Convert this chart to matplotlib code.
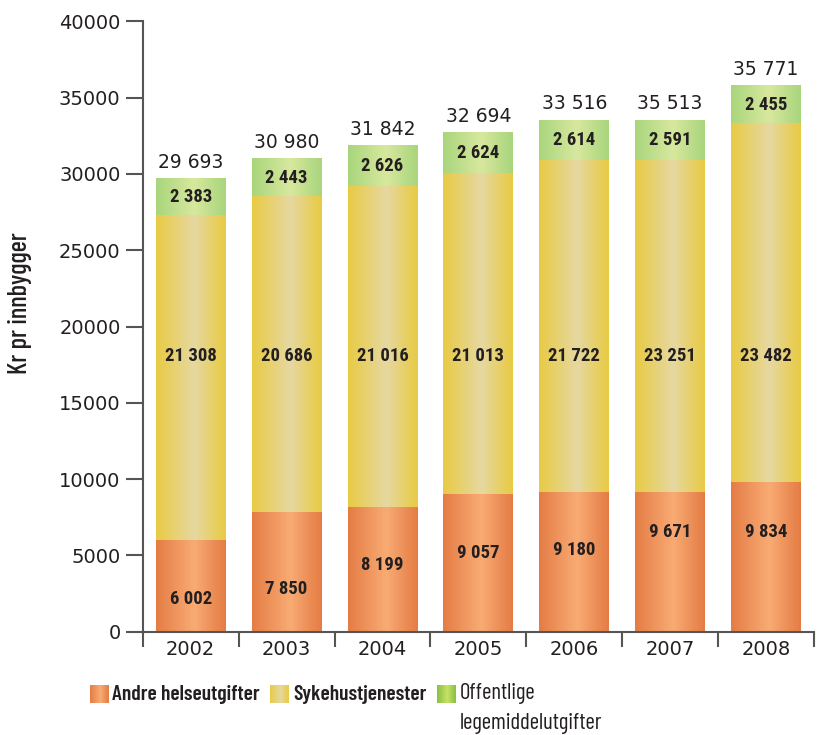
import numpy as np
import matplotlib
matplotlib.use("Agg")
import matplotlib.pyplot as plt
from matplotlib.colors import to_rgb
from matplotlib import font_manager as fm
from matplotlib.font_manager import FontProperties

# ---- data ----
years = ["2002", "2003", "2004", "2005", "2006", "2007", "2008"]
# values printed on the chart
andre_lbl = [6002, 7850, 8199, 9057, 9180, 9671, 9834]
syke_lbl = [21308, 20686, 21016, 21013, 21722, 23251, 23482]
legem_lbl = [2383, 2443, 2626, 2624, 2614, 2591, 2455]
total_lbl = [29693, 30980, 31842, 32694, 33516, 35513, 35771]
# segment heights as drawn in the reference (2007 column drawn like 2006)
andre_bar = [6002, 7850, 8199, 9057, 9180, 9180, 9834]
syke_bar = [21308, 20686, 21016, 21013, 21722, 21722, 23482]
legem_bar = [2383, 2443, 2626, 2624, 2614, 2614, 2455]
yticks = [0, 5000, 10000, 15000, 20000, 25000, 30000, 35000, 40000]

# label positions (data units)
andre_lbl_y = [2150, 2780, 4350, 5160, 5350, 6530, 6530]
syke_lbl_y = 18100

TXT = "#231f20"

W = {"ultralight": 200, "light": 300, "normal": 400, "regular": 400, "book": 400,
     "medium": 500, "roman": 400, "semibold": 600, "demibold": 600, "demi": 600,
     "bold": 700, "heavy": 800, "extra bold": 800, "black": 900}

def wnum(w):
    return w if isinstance(w, (int, float)) else W.get(str(w).lower(), 400)

def pick(names, weight, size, tol=150):
    for n in names:
        c = [f for f in fm.fontManager.ttflist if f.name == n and f.style == "normal"]
        if c:
            best = min(c, key=lambda f: abs(wnum(f.weight) - weight))
            if abs(wnum(best.weight) - weight) <= tol:
                return FontProperties(fname=best.fname, size=size)
    return FontProperties(family="DejaVu Sans", weight=weight, size=size)

FP_LBL = pick(["Roboto Condensed"], 700, 13.5)
FP_LEGB = pick(["Barlow Condensed", "Fira Sans Extra Condensed", "Roboto Condensed"], 600, 15.5)
FP_LEGR = pick(["Barlow Condensed", "Fira Sans Extra Condensed", "Archivo Narrow"], 400, 16.5)
FP_YLAB = pick(["Barlow Condensed", "Fira Sans Extra Condensed", "Roboto Condensed"], 500, 19)
FP_TICK = pick(["Libre Franklin"], 400, 14)
FP_TOT = pick(["Libre Franklin"], 400, 13.5)

def grad(edge, peak, n=256):
    e = np.array(to_rgb(edge)); p = np.array(to_rgb(peak))
    t = np.linspace(0, 1, n)
    pos = [0.0, 0.25, 0.55, 0.85, 1.0]
    w = [0.0, 0.45, 1.0, 0.3, 0.0]
    f = np.interp(t, pos, w)
    return (e[None, :] * (1 - f[:, None]) + p[None, :] * f[:, None])[None, :, :]

G_OR = grad("#e47d45", "#f9ab74")
G_YE = grad("#e8cb44", "#e6d8a2")
G_GR = grad("#a9d57c", "#d8e89e")
G_GR_LEG = grad("#86c240", "#c8e068")

fig = plt.figure(figsize=(8.4, 7.35), dpi=100)
ax = fig.add_axes([0.170, 0.1405, 0.799, 0.8305])

x = np.arange(len(years))
w = 0.73
bottoms2 = np.array(andre_bar)
bottoms3 = bottoms2 + np.array(syke_bar)
tops = bottoms3 + np.array(legem_bar)

for i in x:
    segs = [(0, andre_bar[i], G_OR), (bottoms2[i], bottoms3[i], G_YE), (bottoms3[i], tops[i], G_GR)]
    for b, t, g in segs:
        ax.imshow(g, extent=[i - w / 2, i + w / 2, b, t], aspect="auto",
                  interpolation="bilinear", zorder=2)

def fmt(v):
    return f"{v:,}".replace(",", " ")

for i in x:
    for yy, v in [(andre_lbl_y[i], andre_lbl[i]), (syke_lbl_y, syke_lbl[i]),
                  ((bottoms3[i] + tops[i]) / 2, legem_lbl[i])]:
        ax.text(i, yy, fmt(v), ha="center", va="center", fontproperties=FP_LBL,
                color=TXT, zorder=3)
    ax.annotate(fmt(total_lbl[i]), (i, tops[i]), xytext=(0, 5), textcoords="offset points",
                ha="center", va="bottom", fontproperties=FP_TOT, color=TXT)

ax.set_xlim(-0.5, len(years) - 0.5)
ax.set_ylim(0, 40000)
ax.set_yticks(yticks)
ax.set_yticklabels([str(v) for v in yticks], fontproperties=FP_TICK, color=TXT)
ax.set_xticks(x)
ax.set_xticklabels(years, fontproperties=FP_TICK, color=TXT)
ax.set_xticks(np.arange(len(years) + 1) - 0.5, minor=True)
ax.tick_params(axis="x", which="major", length=0, pad=6)
ax.tick_params(axis="x", which="minor", length=11, width=1.5, color="#555555", direction="out")
ax.tick_params(axis="y", length=12, width=1.5, color="#555555", pad=4)
for s in ["top", "right"]:
    ax.spines[s].set_visible(False)
for s in ["left", "bottom"]:
    ax.spines[s].set_color("#555555")
    ax.spines[s].set_linewidth(1.5)
ax.set_ylabel("Kr pr innbygger", fontproperties=FP_YLAB, color=TXT)
ax.yaxis.set_label_coords(-0.165, 0.538)

# legend
def swatch(x0, y0, g):
    sa = fig.add_axes([x0 / 840, 1 - (y0 + 18) / 735, 19 / 840, 18 / 735])
    sa.imshow(g, aspect="auto", interpolation="bilinear")
    sa.axis("off")

swatch(90, 685, G_OR)
swatch(270, 685, G_YE)
swatch(437, 685, G_GR_LEG)
fig.text(112 / 840, 1 - 694 / 735, "Andre helseutgifter", fontproperties=FP_LEGB,
         color=TXT, va="center")
fig.text(293 / 840, 1 - 694 / 735, "Sykehustjenester", fontproperties=FP_LEGB,
         color=TXT, va="center")
fig.text(460 / 840, 1 - 694 / 735, "Offentlige", fontproperties=FP_LEGR,
         color=TXT, va="center")
fig.text(460 / 840, 1 - 723 / 735, "legemiddelutgifter", fontproperties=FP_LEGR,
         color=TXT, va="center")

fig.savefig("out.png", dpi=100)
